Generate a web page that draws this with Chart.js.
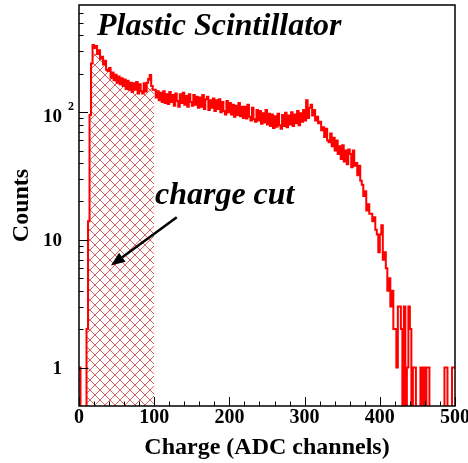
<!DOCTYPE html>
<html>
<head>
<meta charset="utf-8">
<script src="https://cdn.jsdelivr.net/npm/chart.js@4.4.0/dist/chart.umd.min.js"></script>
<style>
  html, body { margin: 0; padding: 0; background: #fff; }
  #wrap { width: 468px; height: 463px; }
</style>
</head>
<body>
<div id="wrap"><canvas id="chart" width="468" height="463"></canvas></div>
<script>
'use strict';

// ADC charge spectrum, 2-channel bins from 0 to 500
var binWidth = 2;
var counts = [
  1, 0, 0, 0, 0, 2, 14, 95, 240, 335,
  318, 330, 285, 305, 262, 272, 236, 252, 215, 210,
  222, 186, 204, 178, 196, 170, 190, 165, 184, 160,
  180, 152, 176, 150, 170, 144, 168, 150, 172, 140,
  165, 146, 140, 168, 145, 170, 182, 195, 160, 150,
  150, 130, 146, 124, 142, 120, 146, 118, 138, 116,
  144, 120, 136, 112, 140, 122, 110, 138, 118, 142,
  114, 134, 110, 138, 120, 112, 136, 114, 132, 108,
  130, 110, 136, 106, 126, 132, 104, 124, 108, 128,
  102, 124, 106, 126, 100, 120, 102, 96, 122, 100,
  118, 96, 114, 92, 112, 95, 118, 93, 110, 90,
  110, 89, 114, 92, 86, 108, 88, 84, 104, 86,
  102, 81, 98, 83, 104, 80, 97, 78, 96, 75,
  93, 77, 97, 79, 74, 95, 78, 99, 76, 94,
  80, 100, 78, 96, 82, 102, 79, 98, 84, 104,
  86, 124, 90, 108, 114, 94, 104, 86, 92, 82,
  84, 72, 76, 64, 74, 60, 58, 68, 54, 63,
  50, 60, 47, 54, 43, 55, 41, 50, 39, 51,
  47, 37, 50, 38, 40, 32, 38, 29, 27, 22,
  24, 17, 19, 16, 16, 14, 15, 12, 11, 8,
  11, 13, 7, 8, 6, 4, 5, 3, 4, 2,
  2, 1, 3, 3, 2, 0, 3, 0, 1, 3,
  2, 0, 1, 1, 0, 0, 0, 1, 0, 1,
  0, 1, 1, 0, 0, 0, 0, 0, 0, 0,
  0, 0, 0, 1, 1, 0, 0, 0, 1, 1
];
var cutRange = [0, 100];

var xRange = [0, 500];
var yRange = [0.5, 690];
var xTicks = [0, 100, 200, 300, 400, 500];
var xTickLabels = ['0', '100', '200', '300', '400', '500'];
var yTicks = [1, 10, 100];
var yTickLabels = [['1', ''], ['10', ''], ['10', '2']];

var titleText = 'Plastic Scintillator';
var cutText = 'charge cut';
var xTitle = 'Charge (ADC channels)';
var yTitle = 'Counts';

// annotation anchors in data units
var titleAt = { x: 24, y: 400 };
var cutTextAt = { x: 101, y: 19 };
var arrowFrom = { x: 130, y: 15 };
var arrowTo = { x: 42.5, y: 6.3 };

var serif = '"Liberation Serif", "Times New Roman", serif';
var emptyValue = 0.1; // empty bins go below the axis and get clipped

function toSteps(values, from, to) {
  var pts = [];
  for (var i = from; i < to; i++) {
    var v = values[i] > 0 ? values[i] : emptyValue;
    pts.push({ x: i * binWidth, y: v });
  }
  pts.push({ x: to * binWidth, y: pts[pts.length - 1].y });
  return pts;
}

function makeHatch() {
  var size = 10;
  var c = document.createElement('canvas');
  c.width = size;
  c.height = size;
  var g = c.getContext('2d');
  g.strokeStyle = 'rgba(214, 80, 80, 0.9)';
  g.lineWidth = 1;
  g.beginPath();
  g.moveTo(0, 0); g.lineTo(size, size);
  g.moveTo(size, 0); g.lineTo(0, size);
  g.stroke();
  return g.createPattern(c, 'repeat');
}

var rootStyle = {
  id: 'rootStyle',
  afterDatasetsDraw: function(chart) {
    var ctx = chart.ctx;
    var area = chart.chartArea;
    var xs = chart.scales.x;
    var ys = chart.scales.y;
    var i, m, v, p;

    ctx.save();
    ctx.strokeStyle = '#000';
    ctx.fillStyle = '#000';

    // frame
    ctx.lineWidth = 1.5;
    ctx.strokeRect(area.left, area.top, area.right - area.left, area.bottom - area.top);

    // ticks, drawn inwards like ROOT
    ctx.lineWidth = 1;
    ctx.beginPath();
    for (v = xRange[0]; v <= xRange[1]; v += 20) {
      p = Math.round(xs.getPixelForValue(v)) + 0.5;
      var xl = (v % 100 === 0) ? 9 : 4.5;
      ctx.moveTo(p, area.bottom);
      ctx.lineTo(p, area.bottom - xl);
    }
    for (i = 0; i < yTicks.length; i++) {
      for (m = 1; m <= 9; m++) {
        v = yTicks[i] * m;
        if (v < yRange[0] || v > yRange[1]) continue;
        p = Math.round(ys.getPixelForValue(v)) + 0.5;
        ctx.moveTo(area.left, p);
        ctx.lineTo(area.left + (m === 1 ? 9 : 4.5), p);
      }
    }
    ctx.stroke();

    // tick labels
    ctx.font = 'bold 20px ' + serif;
    ctx.textAlign = 'center';
    ctx.textBaseline = 'alphabetic';
    for (i = 0; i < xTicks.length; i++) {
      ctx.fillText(xTickLabels[i], xs.getPixelForValue(xTicks[i]), area.bottom + 17);
    }
    for (i = 0; i < yTicks.length; i++) {
      p = ys.getPixelForValue(yTicks[i]);
      var lab = yTickLabels[i];
      ctx.font = 'bold 19px ' + serif;
      ctx.textAlign = 'right';
      if (lab[1]) {
        ctx.fillText(lab[0], area.left - 17, p + 9.5);
        ctx.font = 'bold 12px ' + serif;
        ctx.textAlign = 'left';
        ctx.fillText(lab[1], area.left - 11, p - 2.5);
      } else {
        ctx.fillText(lab[0], area.left - 17, p + 6.5);
      }
    }

    // axis titles
    ctx.font = 'bold 24px ' + serif;
    ctx.textAlign = 'center';
    ctx.fillText(xTitle, (area.left + area.right) / 2, 454);
    ctx.save();
    ctx.translate(28, (area.top + area.bottom) / 2);
    ctx.rotate(-Math.PI / 2);
    ctx.fillText(yTitle, 0, 0);
    ctx.restore();

    // texts in the pad
    ctx.font = 'italic bold 32px ' + serif;
    ctx.textAlign = 'left';
    ctx.fillText(titleText, xs.getPixelForValue(titleAt.x), ys.getPixelForValue(titleAt.y));
    ctx.fillText(cutText, xs.getPixelForValue(cutTextAt.x), ys.getPixelForValue(cutTextAt.y));

    // arrow
    var x1 = xs.getPixelForValue(arrowFrom.x), y1 = ys.getPixelForValue(arrowFrom.y);
    var x2 = xs.getPixelForValue(arrowTo.x), y2 = ys.getPixelForValue(arrowTo.y);
    var ang = Math.atan2(y2 - y1, x2 - x1);
    var head = 14, half = 5.5;
    var bx = x2 - head * Math.cos(ang), by = y2 - head * Math.sin(ang);
    ctx.lineWidth = 2.5;
    ctx.beginPath();
    ctx.moveTo(x1, y1);
    ctx.lineTo(bx, by);
    ctx.stroke();
    ctx.beginPath();
    ctx.moveTo(x2, y2);
    ctx.lineTo(bx + half * Math.sin(ang), by - half * Math.cos(ang));
    ctx.lineTo(bx - half * Math.sin(ang), by + half * Math.cos(ang));
    ctx.closePath();
    ctx.fill();

    ctx.restore();
  }
};

var cutFrom = cutRange[0] / binWidth;
var cutTo = cutRange[1] / binWidth;

new Chart(document.getElementById('chart'), {
  type: 'line',
  data: {
    datasets: [{
      label: 'spectrum',
      data: toSteps(counts, 0, counts.length),
      stepped: true,
      borderColor: '#ff0000',
      borderWidth: 2,
      pointRadius: 0,
      fill: false,
      clip: 0,
      order: 0
    }, {
      label: 'cut',
      data: toSteps(counts, cutFrom, cutTo),
      stepped: true,
      borderColor: 'rgba(214, 80, 80, 0.9)',
      borderWidth: 1,
      pointRadius: 0,
      backgroundColor: makeHatch(),
      fill: 'start',
      clip: 0,
      order: 1
    }]
  },
  options: {
    responsive: false,
    animation: false,
    layout: { padding: { top: 5, right: 13, left: 0, bottom: 0 } },
    scales: {
      x: {
        type: 'linear',
        min: xRange[0],
        max: xRange[1],
        ticks: { display: false },
        grid: { display: false },
        border: { display: false },
        afterFit: function(scale) { scale.height = 57; }
      },
      y: {
        type: 'logarithmic',
        min: yRange[0],
        max: yRange[1],
        ticks: { display: false },
        grid: { display: false },
        border: { display: false },
        afterFit: function(scale) { scale.width = 79; }
      }
    },
    plugins: {
      legend: { display: false },
      tooltip: { enabled: false }
    }
  },
  plugins: [rootStyle]
});
</script>
</body>
</html>
